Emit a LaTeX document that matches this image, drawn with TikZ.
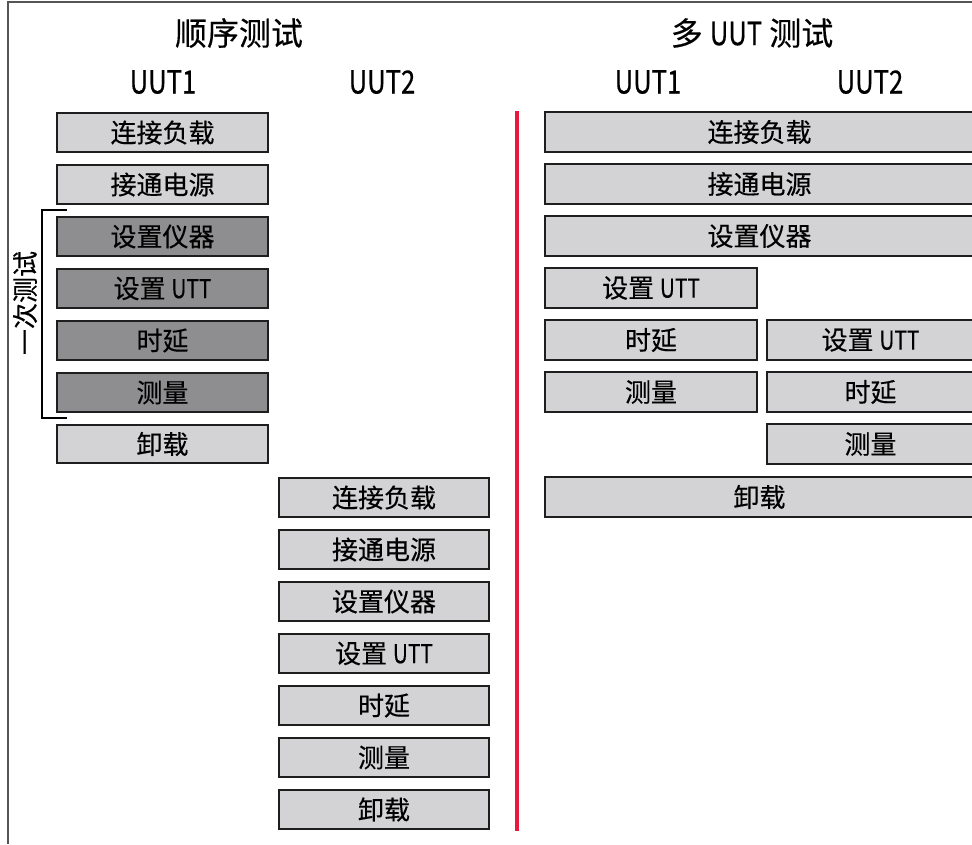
\documentclass[tikz,border=0pt]{standalone}
\usepackage{fontspec}
\setmainfont{Noto Sans CJK SC}[BoldFont=Noto Sans CJK SC, BoldFeatures={FakeBold=0.35}]
\newfontfamily\cond{Noto Sans CJK SC}[FakeStretch=0.8, BoldFont=Noto Sans CJK SC, BoldFeatures={FakeBold=0.35}]
\definecolor{lightfill}{HTML}{D3D3D5}
\definecolor{darkfill}{HTML}{8E8E90}
\definecolor{edge}{HTML}{1E1E1E}
\definecolor{redline}{HTML}{E8193C}
\definecolor{framegray}{HTML}{555555}
\tikzset{
  lbox/.style={draw=edge, line width=1.8pt, fill=lightfill, inner sep=0pt, font=\fontsize{26}{28}\selectfont\bfseries},
  dbox/.style={lbox, fill=darkfill},
  title/.style={font=\fontsize{32}{34}\selectfont\bfseries, inner sep=0pt},
  head/.style={font=\fontsize{32}{34}\selectfont\cond\bfseries, inner sep=0pt},
}
\newcommand{\bx}[7]{% style, name, x1, y1, x2, y2, text
  \node[#1, minimum width={#5-#3}, minimum height={#6-#4}] (#2) at ({(#3+#5)/2},{(#4+#6)/2}) {#7};}
\newcommand{\utt}{设置 {\cond\bfseries UTT}}
\begin{document}
\begin{tikzpicture}[x=1pt,y=-1pt]
\clip (0,0) rectangle (972,844);
\fill[white] (0,0) rectangle (972,844);
% frame
\draw[framegray, line width=1.5pt] (8,844) -- (8,2) -- (972,2);
% titles
\node[title] (t1) at (239,33) {顺序测试};
\node[title] (t2) at (752,33) {多 {\cond\bfseries UUT} 测试};
\node[head] (h1) at (163,82) {UUT1};
\node[head] (h2) at (382,82) {UUT2};
\node[head] (h3) at (648,82) {UUT1};
\node[head] (h4) at (870,82) {UUT2};
% left column UUT1
\bx{lbox}{a1}{57}{113}{268}{152}{连接负载}
\bx{lbox}{a2}{57}{165}{268}{204}{接通电源}
\bx{dbox}{a3}{57}{217}{268}{256}{设置仪器}
\bx{dbox}{a4}{57}{269}{268}{308}{\utt}
\bx{dbox}{a5}{57}{321}{268}{360}{时延}
\bx{dbox}{a6}{57}{373}{268}{412}{测量}
\bx{lbox}{a7}{57}{425}{268}{463}{卸载}
% UUT2 column
\bx{lbox}{b1}{279}{478}{489}{517}{连接负载}
\bx{lbox}{b2}{279}{530}{489}{569}{接通电源}
\bx{lbox}{b3}{279}{582}{489}{621}{设置仪器}
\bx{lbox}{b4}{279}{634}{489}{673}{\utt}
\bx{lbox}{b5}{279}{686}{489}{725}{时延}
\bx{lbox}{b6}{279}{738}{489}{777}{测量}
\bx{lbox}{b7}{279}{790}{489}{829}{卸载}
% bracket
\coordinate (bt) at (67,210);
\coordinate (bb) at (67,418);
\draw[black, line width=2.5pt] (bt) -- (42,210) -- (42,418) -- (bb);
\node[font=\fontsize{26}{28}\selectfont\bfseries, rotate=90, inner sep=0pt] (lbl) at (25,303) {一次测试};
% red divider
\coordinate (r1) at (517,111);
\coordinate (r2) at (517,831);
\draw[redline, line width=4pt] (r1) -- (r2);
% multi UUT
\bx{lbox}{c1}{545}{112}{974}{152}{连接负载}
\bx{lbox}{c2}{545}{164}{974}{204}{接通电源}
\bx{lbox}{c3}{545}{216}{974}{256}{设置仪器}
\bx{lbox}{c4}{545}{268}{757}{308}{\utt}
\bx{lbox}{c5}{545}{320}{757}{360}{时延}
\bx{lbox}{c6}{545}{372}{757}{412}{测量}
\bx{lbox}{d1}{767}{320}{974}{360}{\utt}
\bx{lbox}{d2}{767}{372}{974}{412}{时延}
\bx{lbox}{d3}{767}{424}{974}{464}{测量}
\bx{lbox}{c7}{545}{477}{974}{517}{卸载}
\end{tikzpicture}
\end{document}
